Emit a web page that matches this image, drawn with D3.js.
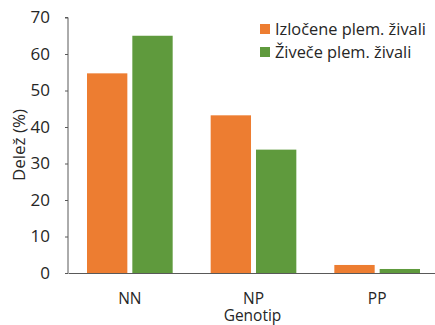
<!DOCTYPE html>
<html><head><meta charset="utf-8">
<script src="https://cdn.jsdelivr.net/npm/d3@7"></script>
<style>body{margin:0;background:#fff}svg{display:block}text{font-family:"Open Sans",sans-serif;fill:#262626}</style>
</head><body><svg id="c" width="435" height="325"></svg>
<script>
const categories = ["NN","NP","PP"];
const seriesNames = ["Izločene plem. živali","Živeče plem. živali"];
const izlocene = [54.7, 43.2, 2.2];
const zivece = [65.0, 33.8, 1.1];
const yTicks = [0,10,20,30,40,50,60,70];
const colors = ["#ED7D31","#5F9A3D"];

const svg = d3.select("#c");
const x0 = 68, x1 = 439, yTop = 17.5, yBot = 273;
const x = d3.scaleBand().domain(categories).range([x0,x1]).paddingInner(0).paddingOuter(0);
const y = d3.scaleLinear().domain([0,70]).range([yBot,yTop]);
const inner = d3.scaleBand().domain([0,1]).range([19, x.bandwidth()-19]).paddingInner(0.11);

const data = [izlocene, zivece];
const g = svg.append("g");
categories.forEach((c,i)=>{
  data.forEach((s,j)=>{
    g.append("rect")
      .attr("x", x(c)+inner(j))
      .attr("y", y(s[i]))
      .attr("width", inner.bandwidth())
      .attr("height", yBot - y(s[i]))
      .attr("fill", colors[j]);
  });
});

// y axis
const ya = svg.append("g").attr("transform",`translate(${x0},0)`)
  .call(d3.axisLeft(y).tickValues(yTicks).tickSize(3).tickPadding(15));
ya.select(".domain").attr("stroke","#595959").attr("d",`M-3,${yTop}H0V${yBot}`);
ya.selectAll(".tick line").attr("stroke","#595959");
ya.selectAll(".tick text").attr("font-size",17).attr("font-family","Open Sans").attr("fill","#262626");

// x axis
const xa = svg.append("g").attr("transform",`translate(0,${yBot})`)
  .call(d3.axisBottom(x).tickSize(0).tickPadding(0));
xa.select(".domain").attr("stroke","#595959");
xa.selectAll(".tick text").attr("font-size",15.5).attr("font-family","Open Sans").attr("fill","#262626")
  .attr("dy",null).attr("y",31);

svg.append("text").attr("x", x(categories[1])+x.bandwidth()/2-1).attr("y",321)
  .attr("text-anchor","middle").attr("font-size",15.5).text("Genotip");
svg.append("text").attr("transform","translate(25,145) rotate(-90)")
  .attr("text-anchor","middle").attr("font-size",17).text("Delež (%)");

// legend
const leg = [];
seriesNames.forEach((n,j)=>{
  const ly = 24 + j*23;
  svg.append("rect").attr("x",260).attr("y",ly).attr("width",10).attr("height",10).attr("fill",colors[j]);
  leg.push(svg.append("text").attr("x",275).attr("y",ly+11).attr("font-size",16).text(n));
});
const w = leg[0].node().getComputedTextLength();
const fs = Math.min(18, 16*151/w);
leg.forEach(t=>t.attr("font-size",fs));
</script></body></html>
